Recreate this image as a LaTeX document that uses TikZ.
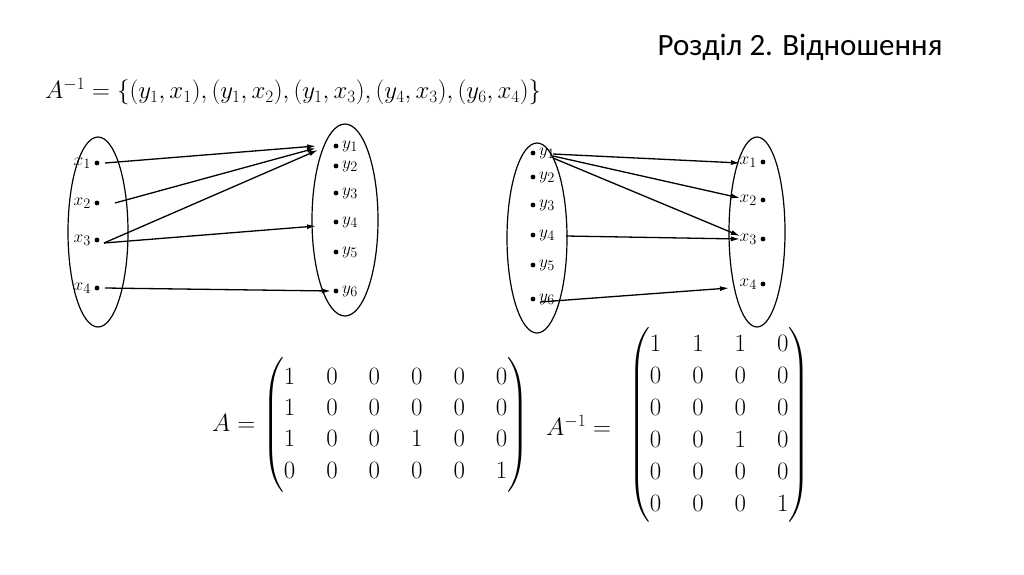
\documentclass[tikz,border=0pt]{standalone}
\usepackage{amsmath}
\usepackage{fontspec}
\usetikzlibrary{arrows.meta}
\newfontfamily\carlitofont{Carlito}
\begin{document}
\begin{tikzpicture}[x=1pt,y=-1pt,
  dot/.style={circle,fill,inner sep=1.7pt},
  lbl/.style={font=\fontsize{19}{21}\selectfont,inner sep=1pt},
  arr/.style={-{Latex[length=9pt,width=5pt]},line width=1.3pt},
  set/.style={line width=1.2pt},
  big/.style={font=\fontsize{24}{28}\selectfont,inner sep=0pt}]
\useasboundingbox (0,0) rectangle (1024,574);
\node[font=\carlitofont\fontsize{31}{35}\selectfont,anchor=east] (title) at (946,47) {Розділ 2. Відношення};
\node[big,anchor=west] (rel) at (45,92) {$A^{-1}=\{(y_1,x_1),(y_1,x_2),(y_1,x_3),(y_4,x_3),(y_6,x_4)\}$};
% left diagram
\draw[set] (98,232) ellipse (30 and 95);
\draw[set] (345,220) ellipse (33 and 96);
\foreach \n/\y in {1/163,2/203,3/240,4/288}{
  \node[dot] (a\n) at (97,\y) {};
  \node[lbl,anchor=east] (al\n) at (92,\y) {$x_{\n}$};}
\foreach \n/\y in {1/146,2/166,3/193,4/222,5/252,6/291}{
  \node[dot] (b\n) at (336,\y) {};
  \node[lbl,anchor=west] (bl\n) at (341,\y) {$y_{\n}$};}
\coordinate (s1) at (105,163); \coordinate (s2) at (115,203);
\coordinate (s3) at (104,243); \coordinate (s4) at (105,288);
\coordinate (t1) at (316,146); \coordinate (t2) at (316,148); \coordinate (t3) at (318,150);
\coordinate (t4) at (316,226); \coordinate (t6) at (331,291);
\draw[arr] (s1) -- (t1); \draw[arr] (s2) -- (t2); \draw[arr] (s3) -- (t3);
\draw[arr] (s3) -- (t4); \draw[arr] (s4) -- (t6);
% right diagram
\draw[set] (537,238) ellipse (30 and 95);
\draw[set] (757,232) ellipse (28 and 95);
\foreach \n/\y in {1/153,2/177,3/205,4/235,5/265,6/299}{
  \node[dot] (c\n) at (533,\y) {};
  \node[lbl,anchor=west] (cl\n) at (538,\y) {$y_{\n}$};}
\foreach \n/\y in {1/162,2/200,3/239,4/284}{
  \node[dot] (d\n) at (763,\y) {};
  \node[lbl,anchor=east] (dl\n) at (758,\y) {$x_{\n}$};}
\coordinate (u1) at (553,154); \coordinate (u2) at (553,156); \coordinate (u3) at (553,158);
\coordinate (u4) at (566,236); \coordinate (u6) at (540,302);
\coordinate (v1) at (740,163); \coordinate (v2) at (740,198); \coordinate (v3) at (740,236);
\coordinate (v4) at (740,239); \coordinate (v6) at (729,288);
\draw[arr] (u1) -- (v1); \draw[arr] (u2) -- (v2); \draw[arr] (u3) -- (v3);
\draw[arr] (u4) -- (v4); \draw[arr] (u6) -- (v6);
% matrices
\node[big,anchor=west] (m1) at (212,425) {\renewcommand{\arraystretch}{1.12}\setlength{\arraycolsep}{15.5pt}$A=\begin{pmatrix}1&0&0&0&0&0\\1&0&0&0&0&0\\1&0&0&1&0&0\\0&0&0&0&0&1\end{pmatrix}$};
\node[big,anchor=west] (m2l) at (546,425) {$A^{-1}=$};
\node[big,anchor=west] (m2) at (628,425) {\renewcommand{\arraystretch}{1.14}\setlength{\arraycolsep}{15.5pt}$\begin{pmatrix}1&1&1&0\\0&0&0&0\\0&0&0&0\\0&0&1&0\\0&0&0&0\\0&0&0&1\end{pmatrix}$};
\end{tikzpicture}
\end{document}
